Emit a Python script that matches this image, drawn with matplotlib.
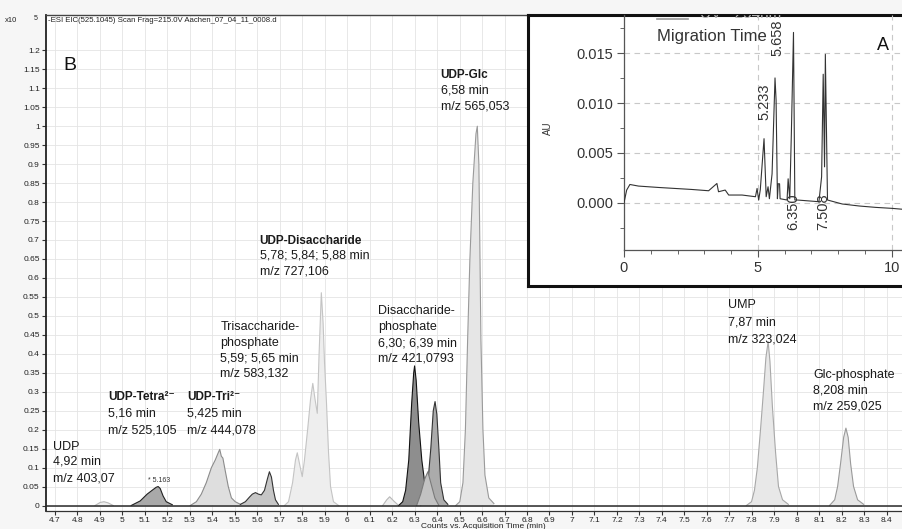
import numpy as np
import matplotlib
matplotlib.use('Agg')
import matplotlib.pyplot as plt
from matplotlib.ticker import MultipleLocator, FixedLocator

plt.rcParams['font.family'] = ['Liberation Sans', 'DejaVu Sans']

# ---------------- data: main EIC traces (time [min], counts x10^5) ----------------
udp_t = [4.878, 4.901, 4.918, 4.936, 4.959]
udp_v = [0.0, 0.008, 0.010, 0.007, 0.0]

tetra_t = [5.039, 5.079, 5.110, 5.132, 5.150, 5.159, 5.168, 5.181, 5.195, 5.222]
tetra_v = [0.0, 0.012, 0.030, 0.040, 0.048, 0.050, 0.045, 0.025, 0.010, 0.002]

tri_t = [5.302, 5.329, 5.351, 5.373, 5.396, 5.413, 5.427, 5.433, 5.440, 5.447,
         5.458, 5.471, 5.485, 5.502, 5.525]
tri_v = [0.0, 0.010, 0.030, 0.060, 0.100, 0.120, 0.140, 0.148, 0.130, 0.125,
         0.090, 0.050, 0.020, 0.010, 0.003]

trisp_t = [5.525, 5.547, 5.565, 5.578, 5.592, 5.605, 5.618, 5.632, 5.645, 5.654,
           5.663, 5.672, 5.681, 5.694]
trisp_v = [0.003, 0.010, 0.022, 0.030, 0.034, 0.030, 0.028, 0.040, 0.070, 0.089,
           0.075, 0.040, 0.015, 0.003]

disac_t = [5.721, 5.739, 5.757, 5.770, 5.778, 5.788, 5.800, 5.810, 5.824, 5.837,
           5.847, 5.857, 5.867, 5.875, 5.885, 5.893, 5.899, 5.908, 5.917, 5.926,
           5.939, 5.962]
disac_v = [0.0, 0.010, 0.060, 0.120, 0.139, 0.110, 0.076, 0.120, 0.200, 0.280,
           0.322, 0.280, 0.243, 0.400, 0.561, 0.480, 0.380, 0.270, 0.140, 0.050,
           0.010, 0.0]

small62_t = [6.158, 6.176, 6.189, 6.207, 6.229]
small62_v = [0.0, 0.015, 0.023, 0.012, 0.0]

dip1_t = [6.229, 6.247, 6.260, 6.274, 6.287, 6.296, 6.300, 6.307, 6.318, 6.332,
          6.345, 6.359, 6.376, 6.399]
dip1_v = [0.0, 0.010, 0.040, 0.120, 0.270, 0.350, 0.368, 0.330, 0.220, 0.120,
          0.060, 0.030, 0.010, 0.002]

dip2_t = [6.327, 6.345, 6.359, 6.372, 6.383, 6.391, 6.399, 6.408, 6.416, 6.430, 6.448]
dip2_v = [0.0, 0.020, 0.060, 0.150, 0.250, 0.274, 0.240, 0.150, 0.060, 0.015, 0.003]

dip3_t = [6.309, 6.327, 6.345, 6.359, 6.372, 6.390, 6.408]
dip3_v = [0.0, 0.030, 0.070, 0.089, 0.060, 0.020, 0.0]

glc_t = [6.483, 6.501, 6.515, 6.526, 6.536, 6.546, 6.559, 6.573, 6.579, 6.586,
         6.590, 6.595, 6.604, 6.613, 6.630, 6.653]
glc_v = [0.0, 0.010, 0.060, 0.200, 0.440, 0.650, 0.850, 0.980, 1.000, 0.900,
         0.700, 0.440, 0.200, 0.080, 0.020, 0.005]

ump_t = [7.776, 7.799, 7.812, 7.825, 7.839, 7.852, 7.863, 7.873, 7.881, 7.892,
         7.906, 7.919, 7.937, 7.963]
ump_v = [0.0, 0.010, 0.040, 0.100, 0.200, 0.300, 0.390, 0.432, 0.380, 0.260,
         0.140, 0.050, 0.015, 0.003]

glcp_t = [8.146, 8.169, 8.182, 8.195, 8.209, 8.219, 8.229, 8.240, 8.253, 8.271, 8.298]
glcp_v = [0.0, 0.015, 0.050, 0.110, 0.180, 0.204, 0.180, 0.110, 0.050, 0.015, 0.003]

x_ticks = [4.7, 4.8, 4.9, 5.0, 5.1, 5.2, 5.3, 5.4, 5.5, 5.6, 5.7, 5.8, 5.9, 6.0,
           6.1, 6.2, 6.3, 6.4, 6.5, 6.6, 6.7, 6.8, 6.9, 7.0, 7.1, 7.2, 7.3, 7.4,
           7.5, 7.6, 7.7, 7.8, 7.9, 8.0, 8.1, 8.2, 8.3, 8.4]
y_ticks = [0, 0.05, 0.1, 0.15, 0.2, 0.25, 0.3, 0.35, 0.4, 0.45, 0.5, 0.55, 0.6,
           0.65, 0.7, 0.75, 0.8, 0.85, 0.9, 0.95, 1.0, 1.05, 1.1, 1.15, 1.2]

# ---------------- data: inset UV electropherogram (min, AU) ----------------
uv_t = [0.0, 0.10, 0.22, 0.54, 1.29, 1.91, 2.53, 3.16, 3.47, 3.53, 3.78, 3.91,
        4.41, 4.91, 4.97, 5.03, 5.09, 5.23, 5.31, 5.38, 5.43, 5.53, 5.64, 5.68,
        5.73, 5.76, 5.81, 5.83, 6.09, 6.13, 6.19, 6.25, 6.33, 6.38, 6.47, 7.28,
        7.38, 7.44, 7.49, 7.52, 7.60, 8.15, 8.78, 9.40, 10.02, 10.45]
uv_v = [0.0, 0.00127, 0.00183, 0.00167, 0.00153, 0.00143, 0.00133, 0.00120,
        0.00193, 0.00110, 0.00127, 0.00077, 0.00077, 0.00060, 0.00143, 0.00027,
        0.00130, 0.00643, 0.00060, 0.00160, 0.00040, 0.00290, 0.01253, 0.01030,
        0.00040, 0.00190, 0.00190, 0.00040, 0.00027, 0.00240, 0.00040, 0.00690,
        0.01710, 0.00027, 0.00027, 0.00010, 0.00260, 0.01290, 0.00360, 0.01490,
        0.00027, -0.00013, -0.00033, -0.00047, -0.00057, -0.00067]
uv_peak_labels = ['5.233', '5.658', '6.350', '7.508']

# ---------------- figure ----------------
W, H = 903, 529
fig = plt.figure(figsize=(W / 100, H / 100), dpi=100, facecolor='#f6f6f6')

ax = fig.add_axes([46 / W, 1 - 511 / H, (W - 46) / W + 0.002, (511 - 15) / H])
ax.set_facecolor('white')
ax.set_xlim(4.660, 8.481)
ax.set_ylim(-0.0145, 1.2932)
ax.set_xticks(x_ticks)
ax.set_xticklabels(['%g' % v for v in x_ticks])
ax.set_yticks(y_ticks)
ax.set_yticklabels(['%g' % v for v in y_ticks])
ax.tick_params(axis='both', direction='out', length=3, width=0.8, color='#333',
               labelsize=6, labelcolor='#222', pad=1.5)
ax.tick_params(axis='x', pad=1.0)
ax.grid(True, color='#e4e4e4', lw=0.6)
ax.set_axisbelow(True)
ax.spines['right'].set_visible(False)
ax.spines['left'].set_linewidth(1.3)
ax.spines['left'].set_color('#222')
ax.spines['bottom'].set_linewidth(0.9)
ax.spines['bottom'].set_color('#333')
ax.spines['top'].set_linewidth(1.0)
ax.spines['top'].set_color('#444')

traces = [
    (udp_t, udp_v, '#eeeeee', '#b8b8b8', 2),
    (small62_t, small62_v, '#eeeeee', '#b8b8b8', 2),
    (disac_t, disac_v, '#eeeeee', '#c4c4c4', 2),
    (glc_t, glc_v, '#e6e6e6', '#9a9a9a', 2),
    (ump_t, ump_v, '#e8e8e8', '#a8a8a8', 2),
    (glcp_t, glcp_v, '#e6e6e6', '#9a9a9a', 2),
    (tri_t, tri_v, '#dedede', '#8c8c8c', 3),
    (trisp_t, trisp_v, '#c6c6c6', '#333333', 3),
    (tetra_t, tetra_v, '#a9a9a9', '#222222', 3),
    (dip2_t, dip2_v, '#ababab', '#333333', 3),
    (dip1_t, dip1_v, '#8e8e8e', '#111111', 3.2),
    (dip3_t, dip3_v, '#c2c2c2', '#7a7a7a', 3.4),
]
for t, v, fc, ec, z in traces:
    ax.fill_between(t, v, 0, facecolor=fc, edgecolor='none', zorder=z)
    ax.plot(t, v, color=ec, lw=0.8, zorder=z + 0.05)

ax.axhline(0, color='#2a2a2a', lw=1.1, zorder=4)

# peak labels
def block(x, ys, lines, bold_first=False):
    for i, (y, s) in enumerate(zip(ys, lines)):
        b = bold_first and i == 0
        ax.text(x, y, s, fontsize=8.5 if b else 9, fontweight='bold' if b else 'normal',
                ha='left', va='center', color='#1a1a1a', zorder=6)

block(4.691, [0.155, 0.1155, 0.0725], ['UDP', '4,92 min', 'm/z 403,07'])
block(4.936, [0.287, 0.242, 0.199], ['UDP-Tetra²⁻', '5,16 min', 'm/z 525,105'], True)
block(5.287, [0.287, 0.242, 0.199], ['UDP-Tri²⁻', '5,425 min', 'm/z 444,078'], True)
block(5.436, [0.470, 0.428, 0.388, 0.347],
      ['Trisaccharide-', 'phosphate', '5,59; 5,65 min', 'm/z 583,132'])
block(5.611, [0.698, 0.659, 0.616],
      ['UDP-Disaccharide', '5,78; 5,84; 5,88 min', 'm/z 727,106'], True)
block(6.137, [0.513, 0.470, 0.428, 0.388],
      ['Disaccharide-', 'phosphate', '6,30; 6,39 min', 'm/z 421,0793'])
block(6.416, [1.135, 1.093, 1.053], ['UDP-Glc', '6,58 min', 'm/z 565,053'], True)
block(7.695, [0.529, 0.482, 0.438], ['UMP', '7,87 min', 'm/z 323,024'])
block(8.074, [0.344, 0.303, 0.262], ['Glc-phosphate', '8,208 min', 'm/z 259,025'])

ax.text(5.164, 0.067, '* 5.163', fontsize=5, ha='center', va='center', color='#333', zorder=6)
ax.text(4.736, 1.16, 'B', fontsize=14, ha='left', va='center', color='#111', zorder=6)

# header and axis title
fig.text(5 / W, 1 - 20 / H, 'x10', fontsize=5.5, ha='left', va='center', color='#222')
fig.text(34 / W, 1 - 18 / H, '5', fontsize=5, ha='left', va='center', color='#222')
fig.text(48 / W, 1 - 20 / H, '-ESI EIC(525.1045) Scan Frag=215.0V Aachen_07_04_11_0008.d',
         fontsize=5.6, ha='left', va='center', color='#222')
fig.text(421 / W, 1 - 523.5 / H, 'Counts vs. Acquisition Time (min)', fontsize=6,
         ha='left', va='top', color='#222')

# ---------------- inset ----------------
box = fig.add_axes([528 / W, 1 - 286 / H, (W - 528) / W + 0.02, (286 - 15) / H])
box.set_xticks([])
box.set_yticks([])
box.set_facecolor('white')
for s in box.spines.values():
    s.set_linewidth(2.2)
    s.set_color('#111')
box.set_zorder(5)

axi = fig.add_axes([624 / W, 1 - 250 / H, (W - 624) / W, (250 - 15) / H])
axi.set_zorder(6)
axi.patch.set_alpha(0)
axi.set_xlim(0, 10.42)
axi.set_ylim(-0.00475, 0.01885)
axi.xaxis.set_major_locator(FixedLocator([0, 5, 10]))
axi.xaxis.set_minor_locator(MultipleLocator(1))
axi.yaxis.set_major_locator(FixedLocator([0, 0.005, 0.010, 0.015]))
axi.yaxis.set_minor_locator(MultipleLocator(0.0025))
axi.set_xticklabels(['0', '5', '10'])
axi.set_yticklabels(['0.000', '0.005', '0.010', '0.015'])
axi.tick_params(which='major', direction='out', length=5, width=0.8, color='#555',
                labelsize=10.5, labelcolor='#333', pad=3)
axi.tick_params(which='minor', direction='out', length=3, width=0.7, color='#666')
axi.spines['top'].set_visible(False)
axi.spines['right'].set_visible(False)
for sp in ('left', 'bottom'):
    axi.spines[sp].set_color('#555')
    axi.spines[sp].set_linewidth(0.9)
axi.grid(True, which='major', ls=(0, (5, 4)), color='#c8c8c8', lw=0.8)
axi.set_axisbelow(True)
axi.plot(uv_t, uv_v, color='#333', lw=0.8, zorder=3)

for (px, py), s in zip([(764, 102), (777, 38), (793, 212), (823, 212)], uv_peak_labels):
    fig.text(px / W, 1 - py / H, s, rotation=90, fontsize=10.5, ha='center', va='center',
             color='#333', zorder=10)

fig.text(548 / W, 1 - 128 / H, 'AU', rotation=90, fontsize=7, ha='center', va='center',
         color='#333', zorder=10)
fig.text(657 / W, 1 - 37 / H, 'Migration Time', fontsize=12, ha='left', va='center',
         color='#333', zorder=10)
fig.text(883 / W, 1 - 45 / H, 'A', fontsize=13, ha='center', va='center', color='#111',
         zorder=10)
axi.plot([657 / W, 688 / W], [1 - 18.5 / H, 1 - 18.5 / H], transform=fig.transFigure,
         color='#999', lw=1.2, clip_on=False)
axi.text(700 / W, 1 - 14 / H, 'UV - 254nm', transform=fig.transFigure, fontsize=11,
         ha='left', va='center', color='#b5b5b5', clip_on=True, clip_path=axi.patch)

fig.savefig('out.png', dpi=100, facecolor=fig.get_facecolor())
